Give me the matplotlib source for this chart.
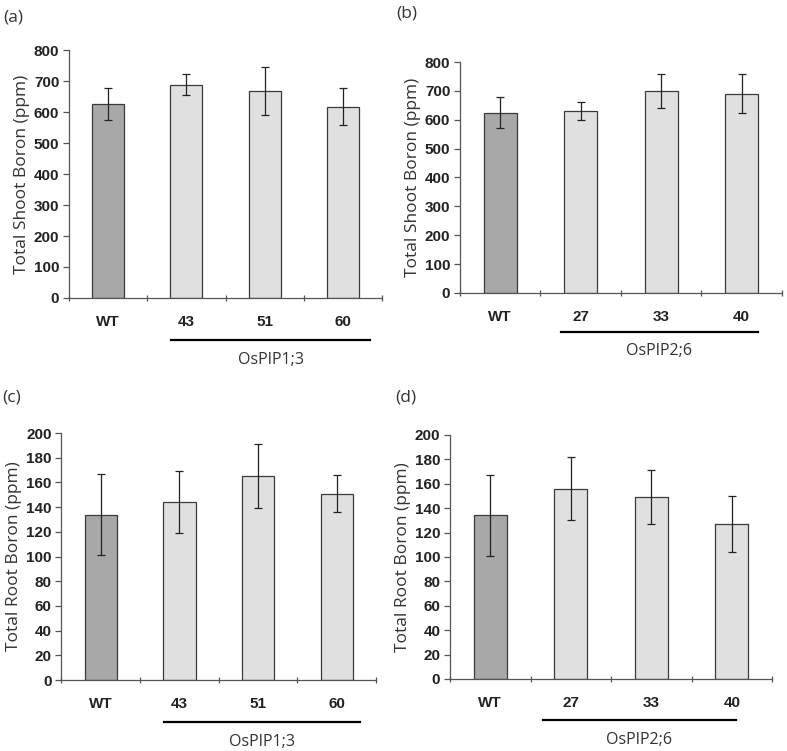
import numpy as np
import matplotlib.pyplot as plt
from matplotlib.transforms import blended_transform_factory

# data
labels_1 = ['WT', '43', '51', '60']
labels_2 = ['WT', '27', '33', '40']
shoot_1 = [625, 688, 667, 617]
shoot_1_err = [52, 34, 77, 60]
shoot_2 = [625, 630, 700, 690]
shoot_2_err = [53, 30, 58, 67]
root_1 = [134, 144, 165, 151]
root_1_err = [33, 25, 26, 15]
root_2 = [134, 156, 149, 127]
root_2_err = [33, 26, 22, 23]

tick_font = ['Liberation Sans Narrow', 'Liberation Sans', 'DejaVu Sans']
text_font = ['Open Sans', 'DejaVu Sans']
dark = '#a8a8a8'
light = '#e0e0e0'
edge = '#3a3a3a'

fig = plt.figure(figsize=(7.87, 7.51), dpi=100)


def panel(rect, labels, vals, errs, ymax, ystep, ylabel, group, line_x, tag, tag_pos):
    ax = fig.add_axes(rect)
    x = np.arange(len(labels))
    colors = [dark] + [light] * (len(labels) - 1)
    ax.bar(x, vals, width=0.41, color=colors, edgecolor=edge, linewidth=0.9, zorder=2)
    ax.errorbar(x, vals, yerr=errs, fmt='none', ecolor='#222222', elinewidth=0.9,
                capsize=3, capthick=0.9, zorder=3)
    ax.set_xlim(-0.5, len(labels) - 0.5)
    ax.set_ylim(0, ymax)
    yt = np.arange(0, ymax + 1, ystep)
    ax.set_yticks(yt, labels=[str(v) for v in yt], fontfamily=tick_font,
                  fontweight='bold', fontsize=11, color='#222222')
    for s in ['top', 'right']:
        ax.spines[s].set_visible(False)
    for s in ['left', 'bottom']:
        ax.spines[s].set_color('#555555')
        ax.spines[s].set_linewidth(0.9)
    ax.set_xticks(x, labels=labels, fontfamily=tick_font, fontweight='bold',
                  fontsize=11, color='#222222')
    ax.set_xticks(np.arange(-0.5, len(labels), 1.0), minor=True)
    ax.tick_params(axis='x', which='major', length=0, pad=12)
    ax.tick_params(axis='x', which='minor', length=5, width=0.9, color='#555555', direction='inout')
    ax.tick_params(axis='y', length=4, width=0.9, color='#555555', pad=3)
    ax.set_ylabel(ylabel, fontfamily=text_font, fontsize=12.5, color='#333333', labelpad=3)
    tr = blended_transform_factory(ax.transData, ax.transAxes)
    ax.plot(line_x, [-0.17, -0.17], color='black', linewidth=1.6, transform=tr, clip_on=False)
    ax.text(np.mean(line_x), -0.25, group, transform=tr, ha='center', va='center',
            fontfamily=text_font, fontsize=11.5, color='#333333')
    fig.text(tag_pos[0] / 787, 1 - tag_pos[1] / 751, tag, fontfamily=text_font,
             fontsize=12.5, ha='left', va='center', color='#333333')
    return ax


panel([0.0877, 0.6032, 0.3977, 0.3302], labels_1, shoot_1, shoot_1_err, 800, 100,
      'Total Shoot Boron (ppm)', 'OsPIP1;3', [0.8, 3.35], '(a)', (3, 17))
panel([0.5845, 0.6099, 0.4091, 0.3075], labels_2, shoot_2, shoot_2_err, 800, 100,
      'Total Shoot Boron (ppm)', 'OsPIP2;6', [0.75, 3.2], '(b)', (396, 13))
panel([0.078, 0.0945, 0.3998, 0.3289], labels_1, root_1, root_1_err, 200, 20,
      'Total Root Boron (ppm)', 'OsPIP1;3', [0.8, 3.3], '(c)', (2, 397))
panel([0.5718, 0.0959, 0.4092, 0.3249], labels_2, root_2, root_2_err, 200, 20,
      'Total Root Boron (ppm)', 'OsPIP2;6', [0.65, 3.05], '(d)', (395, 397))

plt.savefig('out.png', dpi=100)
